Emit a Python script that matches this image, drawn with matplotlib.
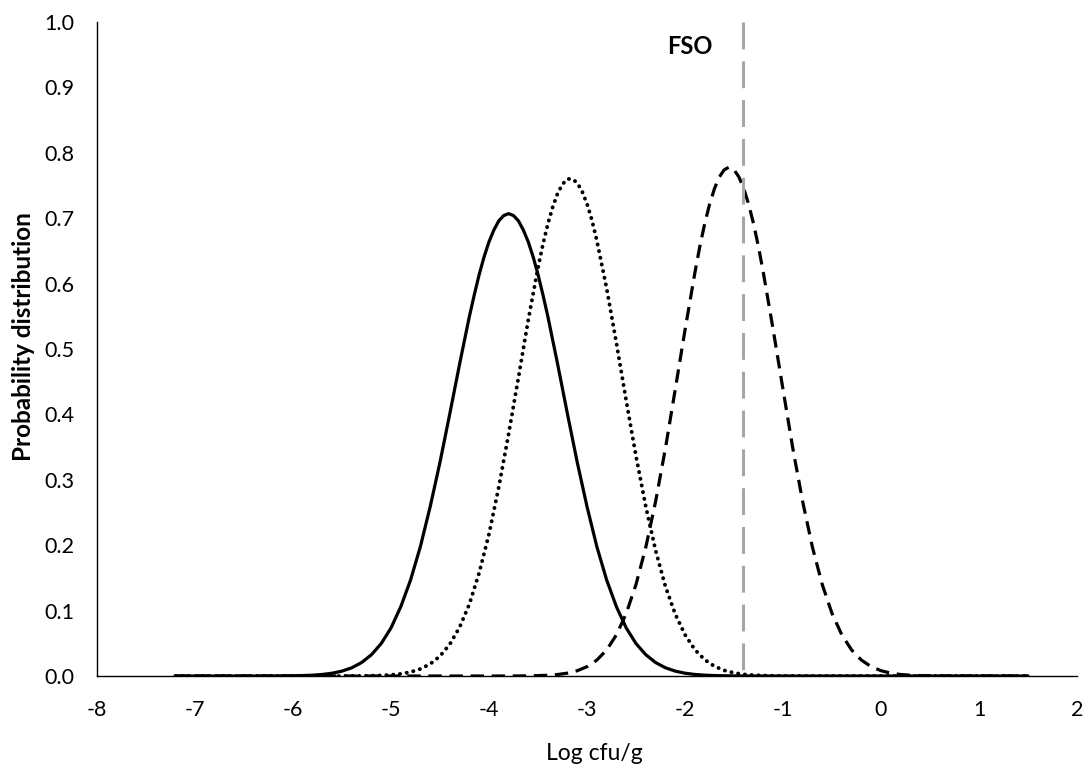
import matplotlib
matplotlib.use("Agg")
import matplotlib.pyplot as plt

# curvas: cada una con su propio eje x (log cfu/g)
x_continua = [
    -7.2, -6.3,
    -6.2, -6.1, -6.0, -5.9, -5.8, -5.7, -5.6, -5.5, -5.4, -5.3,
    -5.2, -5.1, -5.0, -4.9, -4.8, -4.7, -4.6, -4.5, -4.4, -4.3,
    -4.2, -4.15, -4.1, -4.05, -4.0, -3.95, -3.9, -3.85, -3.8,
    -3.75, -3.7, -3.65, -3.6, -3.55, -3.5, -3.45, -3.4, -3.3,
    -3.2, -3.1, -3.0, -2.9, -2.8, -2.7, -2.6, -2.5, -2.4, -2.3,
    -2.2, -2.1, -2.0, -1.9, -1.8, -1.7, -1.6, -1.5, -1.4, -1.3,
    1.5,
]
y_continua = [
    0, 0,
    0.0001, 0.0002, 0.0004, 0.0007, 0.0013, 0.0024, 0.0043, 0.0075, 0.0126, 0.0206,
    0.0325, 0.0496, 0.0735, 0.106, 0.147, 0.198, 0.259, 0.327, 0.401, 0.477,
    0.550, 0.583, 0.614, 0.641, 0.664, 0.682, 0.696, 0.704, 0.707,
    0.704, 0.696, 0.682, 0.664, 0.641, 0.614, 0.583, 0.550, 0.477,
    0.401, 0.327, 0.259, 0.198, 0.147, 0.106, 0.0735, 0.0496, 0.0325, 0.0206,
    0.0126, 0.0075, 0.0043, 0.0024, 0.0013, 0.0007, 0.0004, 0.0002, 0.0001, 0,
    0,
]

x_punteada = [
    -7.2, -5.5,
    -5.4, -5.3, -5.2, -5.1, -5.0, -4.9, -4.8, -4.7, -4.6, -4.5,
    -4.4, -4.3, -4.2, -4.1, -4.0, -3.9, -3.8, -3.7, -3.6, -3.5,
    -3.45, -3.4, -3.35, -3.3, -3.25, -3.2, -3.15, -3.1, -3.05, -3.0, -2.95,
    -2.9, -2.8, -2.7, -2.6, -2.5, -2.4, -2.3, -2.2, -2.1, -2.0,
    -1.9, -1.8, -1.7, -1.6, -1.5, -1.4, -1.3, -1.2, -1.1, -1.0,
    -0.9, 1.5,
]
y_punteada = [
    0, 0,
    0.0001, 0.0002, 0.0004, 0.0009, 0.0017, 0.0033, 0.0061, 0.0108, 0.0184, 0.0304,
    0.0485, 0.0746, 0.110, 0.158, 0.217, 0.289, 0.370, 0.456, 0.544, 0.624,
    0.660, 0.691, 0.717, 0.738, 0.752, 0.760, 0.760, 0.754, 0.741, 0.722, 0.697,
    0.666, 0.593, 0.509, 0.421, 0.336, 0.259, 0.192, 0.137, 0.0948, 0.0631,
    0.0404, 0.0250, 0.0149, 0.0086, 0.0048, 0.0025, 0.0013, 0.0007, 0.0003, 0.0001,
    0, 0,
]

x_discontinua = [
    -7.2, -3.8,
    -3.7, -3.6, -3.5, -3.4, -3.3, -3.2, -3.1, -3.0, -2.9, -2.8,
    -2.7, -2.6, -2.5, -2.4, -2.3, -2.2, -2.1, -2.0, -1.9, -1.85,
    -1.8, -1.75, -1.7, -1.65, -1.6, -1.55, -1.5, -1.45, -1.4, -1.35,
    -1.3, -1.25, -1.2, -1.1, -1.0, -0.9, -0.8, -0.7, -0.6, -0.5,
    -0.4, -0.3, -0.2, -0.1, 0.0, 0.1, 0.2, 0.3, 0.4, 0.5,
    0.6, 0.7, 1.5,
]
y_discontinua = [
    0, 0,
    0.0001, 0.0003, 0.0006, 0.0012, 0.0023, 0.0044, 0.0081, 0.0143, 0.0243, 0.0398,
    0.0629, 0.0956, 0.140, 0.197, 0.267, 0.348, 0.438, 0.529, 0.616, 0.656,
    0.691, 0.721, 0.745, 0.763, 0.774, 0.778, 0.774, 0.763, 0.745, 0.721,
    0.691, 0.656, 0.616, 0.529, 0.438, 0.348, 0.267, 0.197, 0.140, 0.0956,
    0.0629, 0.0398, 0.0243, 0.0143, 0.0081, 0.0044, 0.0023, 0.0012, 0.0006, 0.0003,
    0.0001, 0, 0,
]

fso = -1.41
ticks_x = [-8, -7, -6, -5, -4, -3, -2, -1, 0, 1, 2]
ticks_y = [0.0, 0.1, 0.2, 0.3, 0.4, 0.5, 0.6, 0.7, 0.8, 0.9, 1.0]


def graficar():
    plt.rcParams['font.family'] = ['Lato', 'DejaVu Sans']
    plt.rcParams['axes.unicode_minus'] = False

    fig = plt.figure(figsize=(10.91, 7.74), dpi=100)
    ax = fig.add_axes([0.0889, 0.1266, 0.8983, 0.845])

    ax.plot(x_continua, y_continua, color='black', linewidth=2.3,
            solid_capstyle='round', solid_joinstyle='round')
    ax.plot(x_punteada, y_punteada, color='black', linewidth=2.8,
            linestyle=(0, (0.05, 1.7)), dash_capstyle='round')
    ax.plot(x_discontinua, y_discontinua, color='black', linewidth=2.3,
            linestyle=(0, (4.2, 2.4)))

    # linea del FSO
    ax.plot([fso, fso], [1.0, 0], color='#A6A6A6', linewidth=2.2,
            linestyle=(0, (8.8, 3.9)), dash_capstyle='butt', zorder=5)
    ax.text(-1.95, 0.962, 'FSO', fontsize=17, fontweight='bold',
            ha='center', va='center')

    ax.set_xlim(-8, 2)
    ax.set_ylim(0, 1.0)
    ax.set_xticks(ticks_x)
    ax.set_xticklabels([str(t) for t in ticks_x])
    ax.set_yticks(ticks_y)
    ax.set_yticklabels([f'{t:.1f}' for t in ticks_y])
    ax.tick_params(axis='both', length=0, labelsize=15.5)
    ax.tick_params(axis='x', pad=17)
    ax.tick_params(axis='y', pad=16)

    for lado in ['top', 'right']:
        ax.spines[lado].set_visible(False)
    for lado in ['left', 'bottom']:
        ax.spines[lado].set_color('black')
        ax.spines[lado].set_linewidth(1.0)

    fig.text(594 / 1091, 1 - 753 / 774, 'Log cfu/g', fontsize=16.5,
             ha='center', va='center')
    fig.text(24 / 1091, 1 - 337 / 774, 'Probability distribution', fontsize=17.5,
             fontweight='bold', rotation=90, ha='center', va='center')

    fig.savefig('out.png', dpi=100)


if __name__ == "__main__":
    graficar()
